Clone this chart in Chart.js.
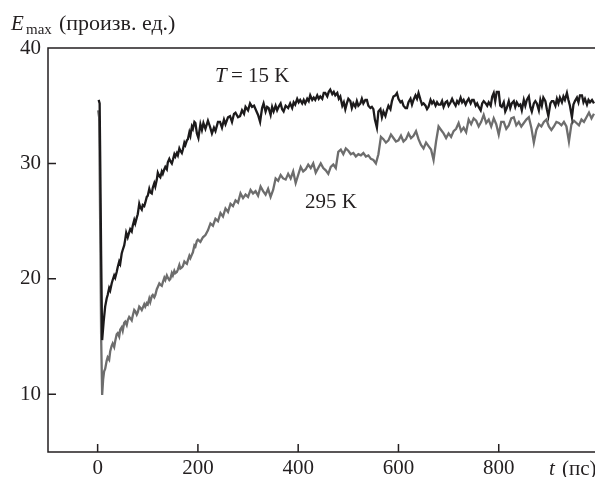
<!DOCTYPE html>
<html>
<head>
<meta charset="utf-8">
<script src="https://cdn.jsdelivr.net/npm/chart.js@4"></script>
<style>
  html, body { margin: 0; padding: 0; background: #fff; }
  #wrap { width: 595px; height: 477px; }
</style>
</head>
<body>
<div id="wrap"><canvas id="chart" width="595" height="477"></canvas></div>
<script>
// axis ticks
const xTicks = [0, 200, 400, 600, 800];
const yTicks = [10, 20, 30, 40];

// T = 15 K (black curve)
const tCold = [2, 4, 5, 7, 9, 12, 15, 18, 20, 23, 25, 28, 30, 33, 35, 38, 40, 43, 45, 48, 50, 53, 55, 57, 60, 62, 65, 68, 70, 73, 75, 78, 80, 83, 85, 88, 90, 93, 95, 98, 100, 103, 105, 108, 110, 113, 115, 118, 120, 123, 125, 128, 130, 133, 135, 138, 140, 143, 145, 148, 150, 153, 155, 158, 160, 163, 165, 168, 170, 173, 175, 178, 180, 183, 185, 188, 190, 193, 195, 198, 201, 205, 208, 211, 215, 220, 224, 228, 232, 235, 240, 244, 248, 252, 255, 260, 264, 268, 272, 275, 280, 284, 288, 292, 295, 300, 304, 308, 312, 315, 320, 324, 328, 331, 335, 338, 341, 345, 348, 351, 355, 358, 361, 365, 368, 371, 375, 380, 384, 388, 391, 394, 398, 401, 404, 408, 411, 414, 418, 421, 424, 428, 431, 434, 438, 441, 444, 448, 451, 454, 458, 461, 464, 468, 471, 474, 478, 481, 484, 488, 491, 494, 497, 500, 504, 507, 510, 514, 517, 520, 524, 527, 530, 534, 537, 540, 544, 547, 550, 553, 557, 560, 564, 567, 570, 574, 577, 580, 584, 587, 590, 594, 597, 600, 604, 607, 610, 614, 617, 620, 624, 627, 630, 634, 637, 640, 644, 647, 650, 654, 657, 660, 664, 667, 670, 674, 677, 680, 684, 687, 690, 694, 697, 700, 704, 707, 710, 714, 717, 720, 724, 727, 730, 734, 737, 740, 744, 747, 750, 754, 757, 760, 764, 767, 770, 774, 777, 780, 784, 787, 790, 793, 796, 800, 803, 806, 810, 813, 816, 820, 823, 826, 830, 833, 836, 840, 843, 846, 850, 853, 856, 860, 863, 866, 870, 873, 876, 880, 883, 886, 889, 893, 896, 899, 903, 906, 909, 913, 916, 919, 922, 926, 929, 932, 936, 939, 942, 946, 949, 952, 956, 959, 962, 966, 969, 972, 976, 979, 982, 986, 990];
const eCold = [35.5, 35.2, 31, 22, 14.7, 16.3, 17.6, 18.3, 18.6, 19.2, 19.0, 19.6, 19.9, 20.3, 20.1, 20.6, 21.0, 21.5, 21.3, 22.2, 22.5, 22.9, 23.4, 24.0, 23.6, 23.9, 24.3, 24.1, 24.6, 25.1, 24.8, 25.3, 25.6, 26.5, 26.2, 26.0, 26.4, 26.3, 26.6, 27.1, 27.2, 27.8, 27.5, 27.4, 27.9, 28.3, 28.0, 28.6, 29.2, 28.9, 28.8, 29.3, 29.1, 29.5, 29.7, 29.5, 30.1, 30.4, 30.2, 30.0, 30.3, 30.8, 30.6, 30.9, 30.7, 31.3, 31.1, 30.9, 31.2, 31.8, 31.6, 32.0, 32.1, 32.7, 32.4, 33.2, 33.0, 33.6, 33.5, 32.6, 32.2, 33.4, 32.9, 33.5, 33.0, 33.7, 33.2, 32.6, 33.1, 32.8, 33.6, 33.6, 33.1, 33.8, 33.4, 34.0, 34.1, 33.6, 34.3, 34.4, 34.0, 34.1, 34.6, 34.3, 34.9, 34.6, 35.2, 34.9, 35.0, 34.7, 34.2, 33.6, 34.8, 35.2, 34.5, 34.9, 34.8, 34.2, 34.9, 34.5, 35.0, 34.6, 34.9, 35.2, 34.7, 34.5, 35.0, 34.8, 35.2, 34.8, 35.3, 35.1, 35.6, 35.3, 35.5, 35.2, 35.5, 35.2, 35.6, 35.4, 35.9, 35.5, 35.7, 35.5, 35.9, 35.6, 35.8, 35.6, 36.1, 36.1, 35.8, 36.2, 36.4, 36.0, 36.2, 35.9, 36.1, 35.6, 35.8, 35.0, 35.3, 34.7, 35.2, 35.6, 35.4, 34.8, 35.2, 34.9, 35.4, 35.0, 35.2, 35.6, 35.2, 35.5, 35.5, 35.0, 34.8, 34.9, 34.7, 33.8, 33.1, 34.5, 34.7, 34.0, 34.5, 34.1, 34.6, 35.0, 34.7, 35.4, 35.8, 35.9, 36.1, 35.6, 35.3, 35.4, 35.0, 34.8, 34.8, 35.3, 35.6, 35.1, 35.5, 35.9, 35.6, 36.1, 35.5, 35.1, 35.2, 35.0, 34.7, 34.9, 35.5, 35.2, 35.4, 35.0, 35.3, 35.1, 35.1, 35.4, 34.9, 35.3, 35.4, 35.0, 35.3, 35.6, 35.3, 35.0, 35.4, 35.2, 35.7, 35.3, 35.5, 35.1, 35.4, 35.6, 35.2, 35.5, 35.5, 35.0, 35.2, 34.9, 34.6, 35.2, 35.4, 35.2, 35.0, 35.3, 35.0, 35.8, 36.1, 35.4, 36.2, 36.2, 35.0, 34.9, 35.3, 34.5, 34.8, 35.4, 34.8, 35.2, 35.4, 34.9, 35.3, 35.0, 35.1, 34.6, 35.5, 35.0, 35.5, 35.8, 34.9, 34.5, 35.2, 35.4, 35.2, 34.6, 35.5, 35.0, 35.7, 35.4, 34.7, 34.1, 35.2, 35.4, 35.4, 35.0, 35.6, 35.2, 35.7, 35.3, 35.8, 35.5, 36.1, 35.5, 35.0, 34.0, 35.1, 35.4, 35.7, 35.3, 35.9, 35.9, 35.3, 35.6, 35.1, 35.5, 35.3, 35.5, 35.2];

// 295 K (grey curve)
const tWarm = [1, 3, 5, 7, 9, 11, 13, 15, 18, 20, 23, 25, 28, 30, 33, 35, 38, 40, 43, 45, 48, 50, 53, 55, 58, 60, 63, 65, 68, 70, 73, 75, 78, 80, 83, 85, 88, 90, 93, 95, 98, 100, 103, 105, 108, 110, 113, 115, 118, 120, 123, 125, 128, 130, 133, 135, 138, 140, 143, 145, 148, 150, 153, 155, 158, 160, 163, 165, 168, 170, 173, 175, 178, 180, 183, 185, 188, 190, 193, 195, 198, 200, 205, 210, 215, 220, 225, 230, 235, 240, 245, 250, 255, 260, 265, 270, 275, 280, 285, 290, 295, 300, 305, 310, 315, 320, 325, 330, 335, 340, 345, 350, 355, 360, 365, 370, 375, 380, 385, 390, 395, 400, 405, 410, 415, 420, 425, 430, 435, 440, 445, 450, 455, 460, 465, 470, 475, 480, 485, 490, 495, 500, 505, 510, 515, 520, 525, 530, 535, 540, 545, 550, 555, 560, 565, 570, 575, 580, 585, 590, 595, 600, 605, 610, 615, 620, 625, 630, 635, 640, 645, 650, 655, 660, 665, 670, 675, 680, 685, 690, 695, 700, 705, 710, 715, 720, 725, 730, 735, 740, 745, 750, 755, 760, 765, 770, 775, 780, 785, 790, 795, 800, 805, 810, 815, 820, 825, 830, 835, 840, 845, 850, 855, 860, 865, 870, 875, 880, 885, 890, 895, 900, 905, 910, 915, 920, 925, 930, 935, 940, 945, 950, 955, 960, 965, 970, 975, 980, 985, 990];
const eWarm = [34.6, 34.0, 25, 15, 9.95, 11.3, 12.0, 12.2, 12.9, 13.2, 13.0, 13.7, 14.2, 14.4, 14.1, 14.6, 15.2, 15.3, 15.0, 15.6, 15.8, 15.5, 16.2, 16.3, 16.0, 16.4, 16.7, 16.6, 16.4, 16.8, 17.3, 17.2, 16.9, 17.1, 17.6, 17.5, 17.3, 17.5, 17.8, 17.6, 17.9, 17.8, 18.3, 18.0, 18.5, 18.6, 18.4, 18.6, 19.1, 19.3, 19.6, 19.5, 19.4, 19.7, 20.1, 19.9, 20.3, 20.1, 19.9, 20.0, 20.5, 20.3, 20.7, 20.5, 20.6, 20.8, 21.2, 20.9, 21.0, 21.1, 21.5, 21.4, 21.3, 21.6, 22.0, 21.8, 22.1, 22.3, 22.9, 22.8, 23.3, 23.4, 23.2, 23.6, 23.8, 24.2, 24.8, 24.6, 25.2, 25.0, 25.7, 25.4, 26.1, 25.8, 26.5, 26.3, 26.8, 26.6, 27.4, 27.0, 27.3, 27.1, 27.7, 27.4, 27.6, 27.2, 28.0, 27.6, 27.3, 27.8, 27.1, 27.7, 28.7, 28.5, 29.0, 28.7, 28.6, 29.1, 28.7, 29.3, 28.3, 29.0, 29.7, 29.3, 29.5, 29.9, 29.6, 30.0, 29.2, 29.6, 30.0, 29.6, 29.4, 29.1, 29.7, 29.9, 29.6, 31.0, 31.2, 30.8, 31.3, 31.1, 30.8, 30.9, 30.6, 30.8, 30.7, 30.9, 30.6, 30.7, 30.4, 30.3, 30.0, 30.8, 32.3, 32.1, 31.8, 32.0, 32.5, 32.2, 31.9, 32.0, 32.4, 31.9, 32.1, 32.6, 32.2, 32.4, 32.8, 32.1, 31.6, 31.3, 31.8, 31.5, 31.2, 30.3, 31.9, 33.2, 32.9, 32.6, 32.2, 32.6, 32.3, 32.8, 33.0, 33.5, 32.8, 33.1, 32.7, 33.8, 33.4, 33.9, 33.7, 33.2, 33.6, 34.2, 33.5, 33.8, 33.2, 33.9, 33.4, 32.5, 33.6, 33.6, 33.0, 33.3, 33.9, 34.0, 33.3, 33.6, 33.2, 33.5, 33.8, 34.0, 33.1, 31.8, 32.9, 33.4, 33.2, 33.6, 33.8, 33.2, 32.9, 33.2, 33.6, 33.5, 33.3, 33.6, 33.2, 31.9, 33.4, 33.7, 33.5, 33.3, 33.8, 33.6, 34.0, 34.4, 33.9, 34.3];

const INK = '#231f20';
const SERIF = '"Liberation Serif", "DejaVu Serif", serif';

// frame, inward ticks and annotations
const decorations = {
  id: 'decorations',
  afterDraw(chart) {
    const { ctx, chartArea: a, scales: { x, y } } = chart;
    ctx.save();
    ctx.strokeStyle = INK;
    ctx.lineWidth = 1.5;
    ctx.beginPath();
    ctx.moveTo(a.right, a.top);
    ctx.lineTo(a.left, a.top);
    ctx.lineTo(a.left, a.bottom);
    ctx.lineTo(a.right, a.bottom);
    xTicks.forEach(v => {
      const px = x.getPixelForValue(v);
      ctx.moveTo(px, a.bottom);
      ctx.lineTo(px, a.bottom - 8);
    });
    yTicks.forEach(v => {
      if (v === 40) return;
      const py = y.getPixelForValue(v);
      ctx.moveTo(a.left, py);
      ctx.lineTo(a.left + 8, py);
    });
    ctx.stroke();

    ctx.fillStyle = INK;
    ctx.textBaseline = 'alphabetic';
    // y axis title
    ctx.font = 'italic 21px ' + SERIF;
    ctx.fillText('E', 11, 30);
    ctx.font = '15px ' + SERIF;
    ctx.fillText('max', 26, 34);
    ctx.font = '22px ' + SERIF;
    ctx.fillText('(произв. ед.)', 59, 30);

    // x axis title
    ctx.font = 'italic 21px ' + SERIF;
    ctx.fillText('t', 549, 475);
    ctx.font = '21px ' + SERIF;
    ctx.fillText('(пс)', 562, 475);

    // curve labels
    ctx.font = 'italic 21px ' + SERIF;
    ctx.fillText('T', 215, 82);
    ctx.font = '21px ' + SERIF;
    ctx.fillText('= 15 K', 231, 82);
    ctx.fillText('295 K', 305, 208);
    ctx.restore();
  }
};

new Chart(document.getElementById('chart'), {
  type: 'line',
  data: {
    datasets: [
      {
        label: 'T = 15 K',
        data: tCold.map((t, i) => ({ x: t, y: eCold[i] })),
        borderColor: '#1c1a1b',
        borderWidth: 2.3,
        pointRadius: 0,
        tension: 0
      },
      {
        label: '295 K',
        data: tWarm.map((t, i) => ({ x: t, y: eWarm[i] })),
        borderColor: '#6d6d6d',
        borderWidth: 2.3,
        pointRadius: 0,
        tension: 0
      }
    ]
  },
  options: {
    responsive: false,
    animation: false,
    layout: { padding: { top: 48, right: 0, left: 0, bottom: 0 } },
    plugins: { legend: { display: false }, tooltip: { enabled: false } },
    scales: {
      x: {
        type: 'linear',
        min: -99,
        max: 992,
        afterFit: s => { s.height = 25; },
        afterBuildTicks: s => { s.ticks = xTicks.map(v => ({ value: v })); },
        grid: { display: false, drawTicks: false },
        border: { display: false },
        ticks: { color: INK, font: { family: SERIF, size: 21 }, padding: 4, maxRotation: 0 }
      },
      y: {
        min: 5,
        max: 40,
        afterFit: s => { s.width = 48; },
        afterBuildTicks: s => { s.ticks = yTicks.map(v => ({ value: v })); },
        grid: { display: false, drawTicks: false },
        border: { display: false },
        ticks: { color: INK, font: { family: SERIF, size: 21 }, padding: 7 }
      }
    }
  },
  plugins: [decorations]
});
</script>
</body>
</html>
